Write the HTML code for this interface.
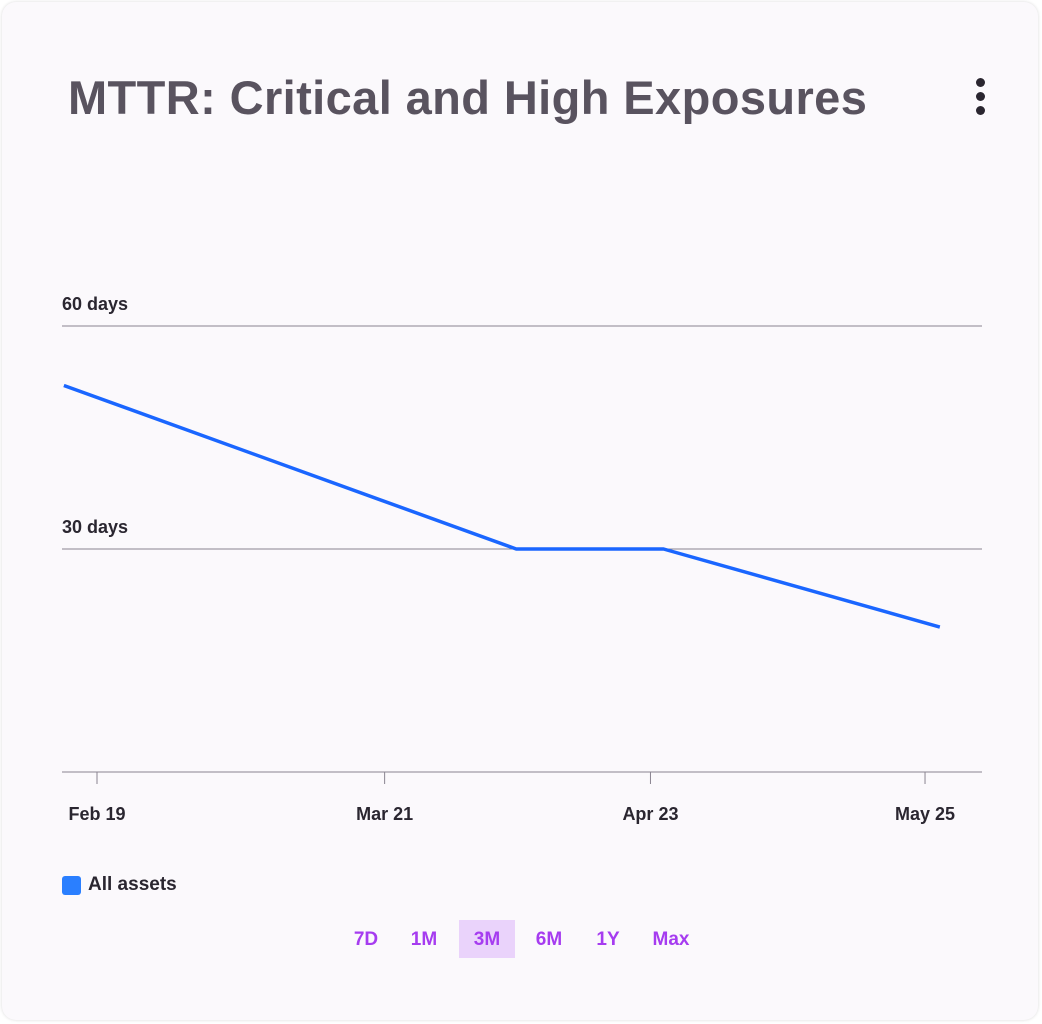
<!DOCTYPE html>
<html><head><meta charset="utf-8"><style>
body{margin:0;width:1042px;height:1024px;background:#fff;font-family:"Liberation Sans",sans-serif;overflow:hidden}
.card{position:absolute;left:2px;top:2px;width:1036px;height:1018px;border-radius:14px;background:#fbf9fc;box-shadow:0 0 3px rgba(0,0,0,0.15)}
.title{position:absolute;left:66px;top:68px;font-size:47px;font-weight:bold;color:#59535f;letter-spacing:0.4px}
.menu{position:absolute;left:970px;top:76px;width:16px;height:40px;cursor:pointer}
.menu i{display:block;width:9px;height:9px;border-radius:50%;background:#2a2630;margin:0 auto 5px}
.legend{position:absolute;left:62px;top:874px;font-size:19px;font-weight:bold;color:#2a2630;display:flex;align-items:center}
.legend span{display:inline-block;width:19px;height:19px;border-radius:3px;background:#2a7fff;margin-right:7px}
.ranges div{position:absolute;top:920px;width:56px;margin-left:-28px;text-align:center;font-size:19px;font-weight:bold;color:#a63cf0;height:38px;line-height:40px;cursor:pointer}
.ranges div.sel{background:#ead3fb}
</style></head><body>
<div class="card">
<div class="title">MTTR: Critical and High Exposures</div>
<div class="menu"><i></i><i></i><i></i></div>
</div>
<svg id="chart" width="1042" height="1024" style="position:absolute;left:0;top:0"></svg>
<div class="legend"><span></span>All assets</div>
<div class="ranges">
<div style="left:366px">7D</div>
<div style="left:424px">1M</div>
<div class="sel" style="left:487px">3M</div>
<div style="left:549px">6M</div>
<div style="left:608px">1Y</div>
<div style="left:671px">Max</div>
</div>
<script>
const pointDays=[-3.8,48.1,65,96.7];
const seriesValues=[52,30,30,19.5];
const tickDays=[0,33,63.5,95];
const tickLabels=["Feb 19","Mar 21","Apr 23","May 25"];
const yTicks=[30,60];
const yTickLabels=["30 days","60 days"];
const NS="http://www.w3.org/2000/svg";
const svg=document.getElementById('chart');
const x=d=>97+d*8.716;
const y=v=>772-v*(223/30);
function mk(t,a){const e=document.createElementNS(NS,t);for(const k in a)e.setAttribute(k,a[k]);svg.appendChild(e);return e;}
yTicks.forEach((v,i)=>{
 const l=mk('line',{x1:62,x2:982,y1:y(v),y2:y(v),stroke:'#8a8490','stroke-width':1});
 
 
 const t=mk('text',{x:62,y:y(v)-16,'font-size':18,'font-weight':'bold',fill:'#2a2630','font-family':'Liberation Sans, sans-serif'});
 t.textContent=yTickLabels[i];
 
 
});
const ax=mk('line',{x1:62,x2:982,y1:772,y2:772,stroke:'#8a8490','stroke-width':1});


tickDays.forEach((d,i)=>{
 const l=mk('line',{x1:x(d),x2:x(d),y1:772,y2:784,stroke:'#8a8490','stroke-width':1});
 
 
 const t=mk('text',{x:x(d),y:820,'font-size':18,'font-weight':'bold',fill:'#2a2630','text-anchor':'middle','font-family':'Liberation Sans, sans-serif'});
 t.textContent=tickLabels[i];
 
 
});
const p=mk('polyline',{points:pointDays.map((d,i)=>x(d)+','+y(seriesValues[i])).join(' '),fill:'none',stroke:'#1a66ff','stroke-width':3.5,'stroke-linejoin':'round'});


</script>
</body></html>
